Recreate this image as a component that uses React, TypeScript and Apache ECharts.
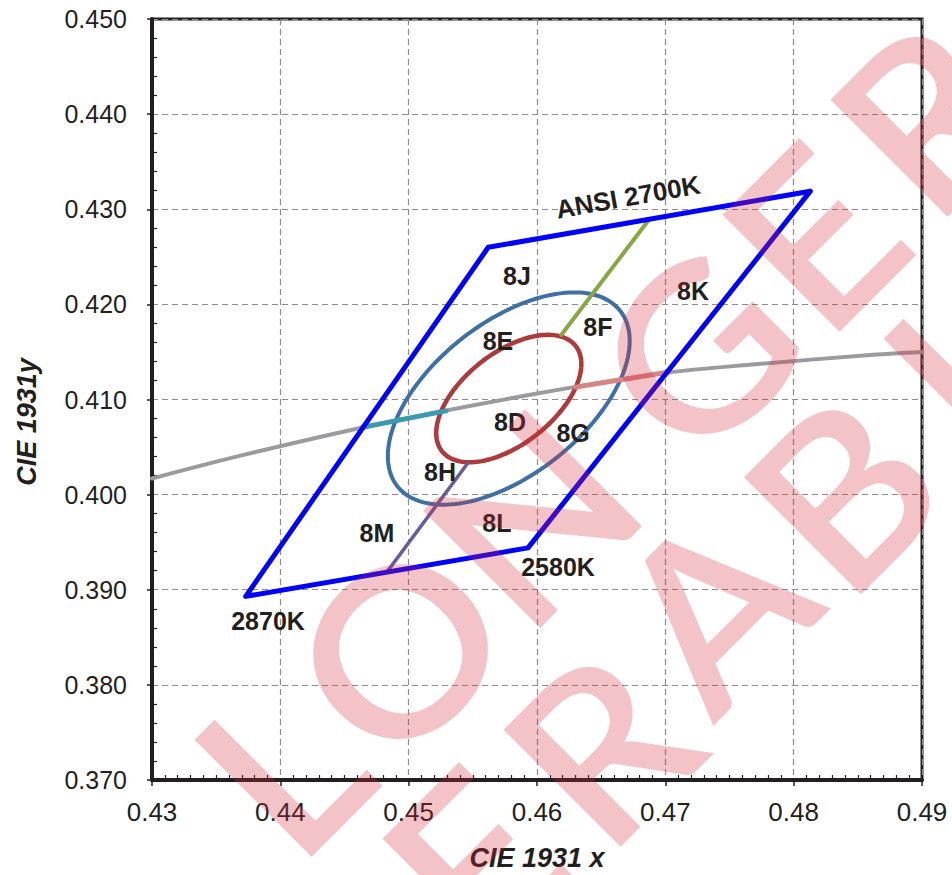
import React, { useEffect, useRef } from "react";
import * as echarts from "echarts";

// Axis ranges
const X_MIN = 0.43;
const X_MAX = 0.49;
const X_STEP = 0.01;
const Y_MIN = 0.37;
const Y_MAX = 0.45;
const Y_STEP = 0.01;

// ANSI 2700K quadrangle (closed)
const quadX = [0.4813, 0.4562, 0.4373, 0.4593, 0.4813];
const quadY = [0.4319, 0.4260, 0.3893, 0.3944, 0.4319];

// Planckian locus (black body curve)
const planckX = [0.4300, 0.4369, 0.4476, 0.4599, 0.4700, 0.4770, 0.4862, 0.4900];
const planckY = [0.4017, 0.4041, 0.4074, 0.4106, 0.4128, 0.4137, 0.4147, 0.4150];

// Highlighted locus segments
const tealX = [0.4465, 0.4529];
const tealY = [0.4071, 0.4088];
const pinkX = [0.4630, 0.4703];
const pinkY = [0.4113, 0.4129];

// Bin divider lines
const greenX = [0.46875, 0.4619];
const greenY = [0.42895, 0.4168];
const purpleX = [0.4483, 0.4546];
const purpleY = [0.39185, 0.4033];

// MacAdam ellipses (center, tilt, semi-axes)
const ellipseCenter = [0.4578, 0.4101];
const ellipseTheta = 53.7;
const innerAxes = [0.00774, 0.00411];
const outerAxes = [0.0129, 0.00685];

// Text annotations
const binLabels = ["8J", "8K", "8E", "8F", "8D", "8G", "8H", "8M", "8L", "2580K", "2870K"];
const binLabelX = [0.45844, 0.47216, 0.45696, 0.46475, 0.4579, 0.46281, 0.45244, 0.44753, 0.45688, 0.46164, 0.43904];
const binLabelY = [0.42297, 0.4214, 0.41614, 0.41761, 0.40762, 0.40647, 0.40237, 0.39595, 0.397, 0.39238, 0.3867];
const ansiLabel = "ANSI 2700K";
const ansiLabelX = 0.46709;
const ansiLabelY = 0.43128;

// Watermark letters (visible part of "NO LONGER / ORDERABLE")
const wmChars = ["L", "O", "N", "G", "E", "R", "E", "R", "A", "B", "L"];

const zip = (xs: number[], ys: number[]) => xs.map((x, i) => [x, ys[i]]);

function ellipsePoints(center: number[], axes: number[], thetaDeg: number) {
  const th = (thetaDeg * Math.PI) / 180;
  const pts: number[][] = [];
  const n = 180;
  for (let i = 0; i <= n; i++) {
    const t = (2 * Math.PI * i) / n;
    const u = axes[0] * Math.cos(t);
    const v = axes[1] * Math.sin(t);
    pts.push([center[0] + u * Math.cos(th) - v * Math.sin(th), center[1] + u * Math.sin(th) + v * Math.cos(th)]);
  }
  return pts;
}

const FONT = "Liberation Sans, Arial, sans-serif";
const INK = "#231f20";

function lineSeries(data: number[][], color: string, width: number, z: number, smooth: boolean | number = false) {
  return {
    type: "line",
    data,
    showSymbol: false,
    symbol: "none",
    smooth,
    z,
    lineStyle: { color, width, cap: "round", join: "round" },
    emphasis: { disabled: true },
    silent: true,
  };
}

const labelStyle = {
  show: true,
  position: "inside",
  formatter: (p: any) => p.name,
  fontSize: 25,
  fontWeight: "bold",
  fontFamily: FONT,
  color: INK,
  opacity: 1,
  textBorderWidth: 0,
};

export default function App() {
  const ref = useRef<HTMLDivElement>(null);
  useEffect(() => {
    document.body.style.margin = "0";
    const chart = echarts.init(ref.current!, null, { renderer: "svg" });
    const wmFill = "rgba(212, 40, 55, 0.28)";
    // watermark letter centres in page pixels
    const wmPos = [
      [284, 770], [402, 653], [534, 520], [700, 355], [817, 240], [930, 120],
      [477, 864], [603, 750], [715, 610], [845, 496], [973, 369],
    ];
    const watermark = wmChars.map((ch, i) => ({
      type: "text",
      x: wmPos[i][0] - 6,
      y: wmPos[i][1] - 6,
      rotation: Math.PI / 4,
      scaleX: 1.05,
      z: 100,
      silent: true,
      style: {
        text: ch,
        fontSize: 230,
        fontWeight: 600,
        fontFamily: "Lato, Liberation Sans, sans-serif",
        fill: wmFill,
        align: "center",
        verticalAlign: "middle",
      },
    }));
    const option: any = {
      animation: false,
      grid: {
        left: 152,
        right: 30,
        top: 19,
        bottom: 95,
        show: true,
        borderColor: INK,
        borderWidth: 3,
        backgroundColor: "transparent",
      },
      xAxis: [
        {
          type: "value",
          min: X_MIN,
          max: X_MAX,
          interval: X_STEP,
          position: "bottom",
          axisLine: { show: true, onZero: false, lineStyle: { color: INK, width: 4 } },
          axisTick: { show: true, inside: false, length: 6, lineStyle: { color: INK, width: 1.5 } },
          axisLabel: {
            show: true,
            margin: 19,
            fontSize: 26,
            fontFamily: FONT,
            color: INK,
            formatter: (v: number) => v.toFixed(2),
          },
          splitLine: { show: true, lineStyle: { color: "#8c8c8c", width: 1.2, type: [6, 4] } },
        },
        {
          type: "value",
          min: X_MIN,
          max: X_MAX,
          interval: X_STEP,
          position: "bottom",
          axisLine: { show: false, onZero: false },
          axisTick: { show: false, inside: true },
          axisLabel: { show: false },
          splitLine: { show: false },
          minorTick: { show: true, splitNumber: 10, length: 5, lineStyle: { color: INK, width: 1.2 } },
        },
      ],
      yAxis: [
        {
          type: "value",
          min: Y_MIN,
          max: Y_MAX,
          interval: Y_STEP,
          position: "left",
          axisLine: { show: true, onZero: false, lineStyle: { color: INK, width: 4 } },
          axisTick: { show: true, inside: false, length: 5, lineStyle: { color: INK, width: 1.5 } },
          axisLabel: {
            show: true,
            margin: 25,
            fontSize: 25,
            fontFamily: FONT,
            color: INK,
            formatter: (v: number) => v.toFixed(3),
          },
          splitLine: { show: true, lineStyle: { color: "#8c8c8c", width: 1.2, type: [6, 4] } },
        },
        {
          type: "value",
          min: Y_MIN,
          max: Y_MAX,
          interval: Y_STEP,
          position: "left",
          axisLine: { show: false, onZero: false },
          axisTick: { show: false, inside: true },
          axisLabel: { show: false },
          splitLine: { show: false },
          minorTick: { show: true, splitNumber: 5, length: 5, lineStyle: { color: INK, width: 1.2 } },
        },
      ],
      series: [
        lineSeries(zip(planckX, planckY), "#9b9b9f", 4, 2, 0.3),
        lineSeries(ellipsePoints(ellipseCenter, outerAxes, ellipseTheta), "#3e6fa7", 4, 3),
        lineSeries(ellipsePoints(ellipseCenter, innerAxes, ellipseTheta), "#ad3b3b", 4.5, 4),
        lineSeries(zip(tealX, tealY), "#3a9ab2", 5, 5),
        lineSeries(zip(pinkX, pinkY), "#d98385", 5, 5),
        lineSeries(zip(greenX, greenY), "#87a744", 4, 5),
        lineSeries(zip(purpleX, purpleY), "#6b5b9b", 3.5, 5),
        lineSeries(zip(quadX, quadY), "#0000ff", 5, 6),
        {
          type: "scatter",
          symbolSize: 2,
          itemStyle: { color: "rgba(0,0,0,0)", opacity: 1 },
          silent: true,
          z: 7,
          data: binLabels.map((name, i) => ({ name, value: [binLabelX[i], binLabelY[i]] })),
          label: labelStyle,
        },
        {
          type: "scatter",
          symbolSize: 2,
          itemStyle: { color: "rgba(0,0,0,0)", opacity: 1 },
          silent: true,
          z: 7,
          data: [{ name: ansiLabel, value: [ansiLabelX, ansiLabelY] }],
          label: { ...labelStyle, fontSize: 26, rotate: 10 },
        },
      ],
      graphic: [
        {
          type: "text",
          x: 27,
          y: 422,
          rotation: Math.PI / 2,
          z: 50,
          style: {
            text: "CIE 1931y",
            fontSize: 27,
            fontWeight: "bold",
            fontStyle: "italic",
            fontFamily: FONT,
            fill: INK,
            align: "center",
            verticalAlign: "middle",
          },
        },
        {
          type: "text",
          x: 537,
          y: 858,
          z: 50,
          style: {
            text: "CIE 1931 x",
            fontSize: 27,
            fontWeight: "bold",
            fontStyle: "italic",
            fontFamily: FONT,
            fill: INK,
            align: "center",
            verticalAlign: "middle",
          },
        },
        ...watermark,
      ],
    };
    chart.setOption(option);
    return () => chart.dispose();
  }, []);
  return <div ref={ref} style={{ width: 952, height: 875 }} />;
}
